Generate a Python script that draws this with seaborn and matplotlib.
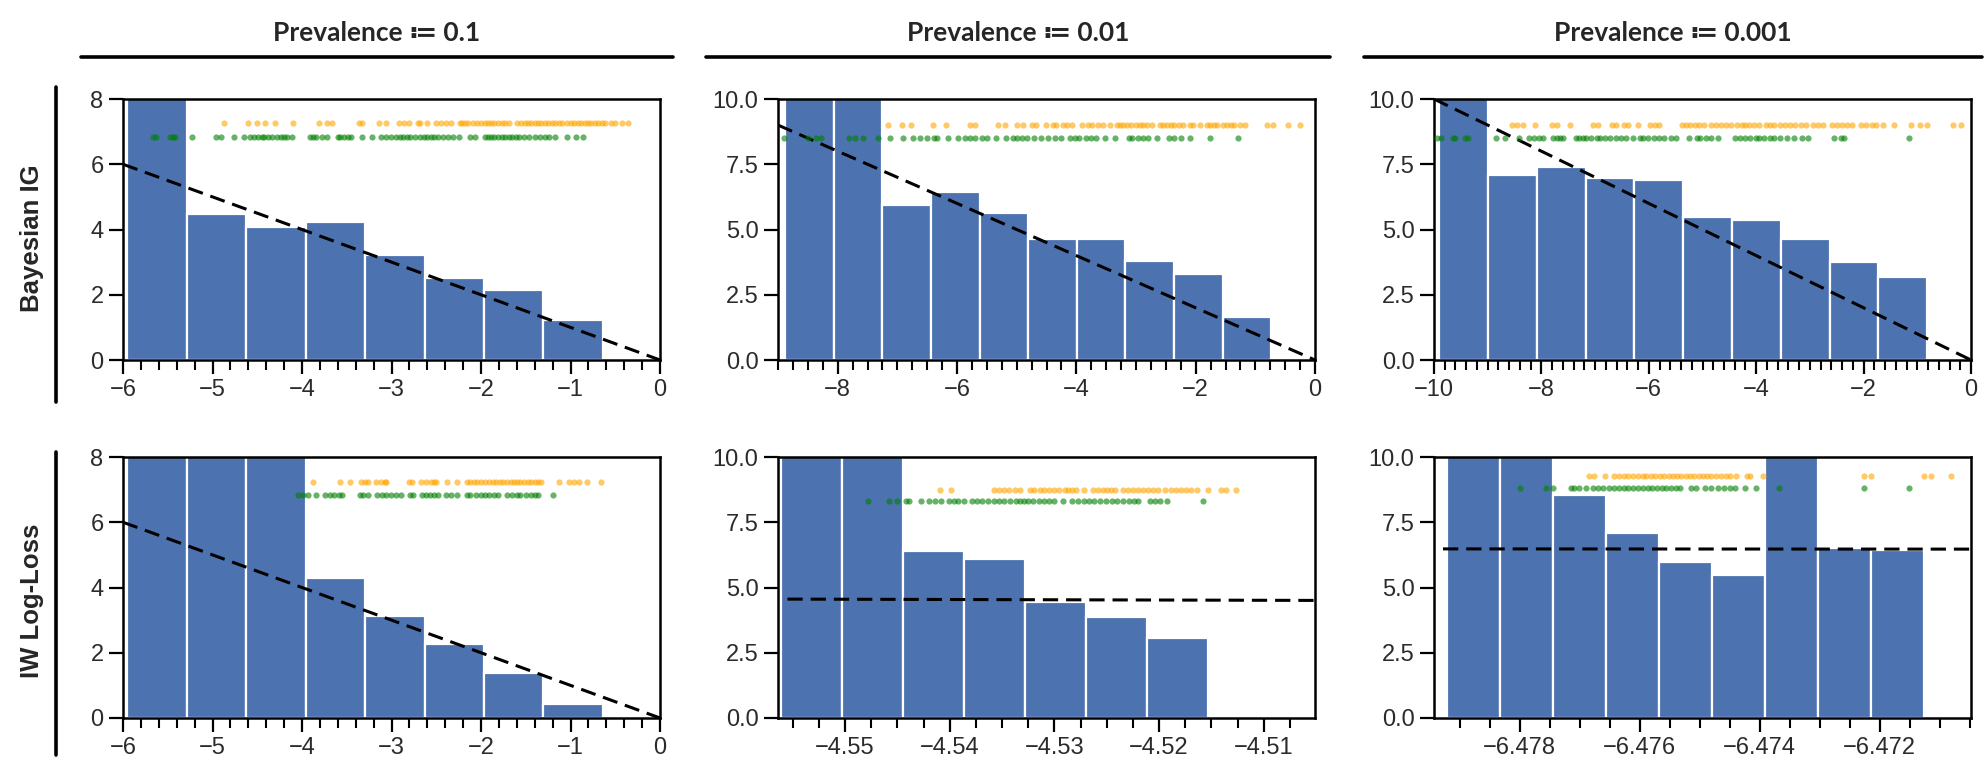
import numpy as np
import pandas as pd
import matplotlib
matplotlib.use("Agg")
import matplotlib.pyplot as plt
from matplotlib.lines import Line2D
from matplotlib.ticker import MultipleLocator
import seaborn as sns

# ---------------- data ----------------
col_titles = ["Prevalence ≔ 0.1", "Prevalence ≔ 0.01", "Prevalence ≔ 0.001"]
row_titles = ["Bayesian IG", "IW Log-Loss"]

# Bayesian IG, prevalence 0.1
ig1_bins = (-5.95, -0.64)
ig1_heights = [12.0, 4.46, 4.07, 4.22, 3.23, 2.50, 2.15, 1.23]
ig1_line = ([-6.0, 0.0], [6.0, 0.0])
ig1_levels = (7.25, 6.85)
ig1_orange = [-4.87, -4.60, -4.50, -4.41, -4.30, -4.10, -3.81, -3.72, -3.66, -3.36, -3.33,
              -3.14, -3.06, -2.92, -2.86, -2.81, -2.70, -2.68, -2.60, -2.50, -2.45, -2.39,
              -2.34, -2.24, -2.21, -2.18, -2.14, -2.09, -2.04, -2.00, -1.96, -1.92, -1.89,
              -1.85, -1.81, -1.77, -1.73, -1.69, -1.60, -1.55, -1.51, -1.48, -1.44, -1.40,
              -1.36, -1.33, -1.29, -1.25, -1.21, -1.17, -1.13, -1.09, -1.04, -1.00, -0.96,
              -0.92, -0.88, -0.84, -0.80, -0.77, -0.73, -0.69, -0.65, -0.61, -0.55, -0.50,
              -0.42, -0.36]
ig1_green = [-5.67, -5.63, -5.47, -5.44, -5.42, -5.23, -4.96, -4.90, -4.76, -4.65, -4.58,
             -4.54, -4.49, -4.45, -4.42, -4.38, -4.34, -4.28, -4.24, -4.20, -4.17, -4.11,
             -3.91, -3.88, -3.84, -3.78, -3.72, -3.60, -3.57, -3.53, -3.49, -3.45, -3.33,
             -3.22, -3.12, -3.06, -3.01, -2.95, -2.91, -2.87, -2.83, -2.79, -2.74, -2.68,
             -2.64, -2.60, -2.56, -2.52, -2.48, -2.43, -2.37, -2.31, -2.25, -2.12, -2.07,
             -1.96, -1.92, -1.89, -1.85, -1.81, -1.77, -1.73, -1.69, -1.65, -1.61, -1.58,
             -1.52, -1.46, -1.40, -1.34, -1.29, -1.24, -1.17, -1.04, -0.94, -0.86]

# Bayesian IG, prevalence 0.01
ig2_bins = (-8.88, -0.735)
ig2_heights = [13.0, 12.0, 5.94, 6.44, 5.64, 4.62, 4.62, 3.78, 3.31, 1.65]
ig2_line = ([-9.0, 0.0], [9.0, 0.0])
ig2_levels = (9.0, 8.5)
ig2_orange = [-7.15, -6.93, -6.77, -6.40, -6.18, -5.78, -5.69, -5.32, -5.20, -5.00, -4.89,
              -4.74, -4.68, -4.51, -4.39, -4.34, -4.22, -4.16, -4.07, -3.90, -3.81, -3.73,
              -3.64, -3.55, -3.44, -3.32, -3.26, -3.21, -3.15, -3.09, -3.00, -2.94, -2.89,
              -2.81, -2.74, -2.60, -2.54, -2.48, -2.42, -2.36, -2.28, -2.22, -2.10, -2.05,
              -1.93, -1.81, -1.76, -1.70, -1.64, -1.55, -1.47, -1.41, -1.35, -1.26, -1.18,
              -0.80, -0.71, -0.45, -0.25]
ig2_green = [-8.90, -8.49, -8.37, -8.28, -7.81, -7.71, -7.58, -7.32, -7.12, -6.91, -6.74,
             -6.62, -6.51, -6.39, -6.33, -6.15, -5.99, -5.87, -5.78, -5.70, -5.58, -5.49,
             -5.35, -5.18, -5.06, -5.00, -4.91, -4.83, -4.71, -4.60, -4.48, -4.36, -4.25,
             -4.10, -4.02, -3.96, -3.84, -3.76, -3.67, -3.52, -3.35, -3.12, -3.06, -2.97,
             -2.89, -2.80, -2.65, -2.45, -2.36, -2.25, -2.10, -1.76, -1.29]

# Bayesian IG, prevalence 0.001
ig3_bins = (-9.905, -0.815)
ig3_heights = [12.0, 7.09, 7.40, 6.96, 6.90, 5.49, 5.36, 4.64, 3.76, 3.17]
ig3_line = ([-10.0, 0.0], [10.0, 0.0])
ig3_levels = (9.0, 8.5)
ig3_orange = [-8.55, -8.45, -8.34, -8.12, -7.81, -7.71, -7.46, -7.04, -6.94, -6.68, -6.62,
              -6.47, -6.39, -6.20, -5.98, -5.88, -5.81, -5.38, -5.31, -5.23, -5.14, -5.07,
              -4.98, -4.85, -4.75, -4.65, -4.56, -4.46, -4.36, -4.27, -4.20, -4.14, -4.04,
              -3.95, -3.82, -3.75, -3.66, -3.56, -3.46, -3.37, -3.27, -3.17, -3.08, -2.95,
              -2.85, -2.76, -2.59, -2.50, -2.40, -2.30, -2.21, -2.05, -1.95, -1.85, -1.76,
              -1.63, -1.43, -1.11, -0.95, -0.82, -0.34, -0.18]
ig3_green = [-9.94, -9.87, -9.65, -9.60, -9.42, -9.36, -8.85, -8.68, -8.42, -8.23, -8.13,
             -8.04, -7.97, -7.78, -7.71, -7.65, -7.59, -7.36, -7.30, -7.23, -7.17, -7.07,
             -6.97, -6.91, -6.81, -6.72, -6.62, -6.52, -6.43, -6.30, -6.17, -6.10, -6.01,
             -5.91, -5.81, -5.72, -5.59, -5.49, -5.25, -5.11, -5.04, -4.94, -4.85, -4.72,
             -4.40, -4.30, -4.20, -4.11, -4.01, -3.95, -3.85, -3.75, -3.66, -3.56, -3.43,
             -3.30, -3.14, -3.04, -2.56, -2.43, -2.37, -1.16]

# IW Log-Loss, prevalence 0.1
iw1_bins = (-5.95, -0.64)
iw1_heights = [13.0, 12.0, 11.0, 4.28, 3.14, 2.26, 1.37, 0.43]
iw1_line = ([-6.0, 0.0], [6.0, 0.0])
iw1_levels = (7.24, 6.85)
iw1_orange = [-3.88, -3.57, -3.46, -3.34, -3.30, -3.26, -3.17, -3.12, -3.07, -3.06, -2.80,
              -2.77, -2.67, -2.62, -2.56, -2.52, -2.50, -2.38, -2.27, -2.16, -2.12, -2.08,
              -2.04, -2.00, -1.96, -1.91, -1.87, -1.83, -1.79, -1.75, -1.71, -1.67, -1.63,
              -1.60, -1.56, -1.52, -1.48, -1.44, -1.40, -1.36, -1.33, -1.13, -1.02, -0.96,
              -0.90, -0.82, -0.66]
iw1_green = [-4.04, -3.99, -3.93, -3.84, -3.74, -3.69, -3.64, -3.59, -3.55, -3.35, -3.32,
             -3.26, -3.16, -3.11, -3.06, -3.01, -2.95, -2.89, -2.79, -2.76, -2.66, -2.62,
             -2.57, -2.52, -2.48, -2.39, -2.33, -2.27, -2.16, -2.12, -2.06, -2.00, -1.96,
             -1.91, -1.85, -1.81, -1.71, -1.65, -1.60, -1.56, -1.50, -1.44, -1.40, -1.36,
             -1.19]

# IW Log-Loss, prevalence 0.01
iw2_bins = (-4.5561, -4.5153)
iw2_heights = [13.0, 12.0, 6.38, 6.08, 4.46, 3.87, 3.08]
iw2_line = ([-4.5555, -4.5051], [4.5555, 4.5051])
iw2_levels = (8.74, 8.33)
iw2_orange = [-4.5409, -4.5399, -4.5358, -4.5353, -4.5348, -4.5343, -4.5338, -4.5333,
              -4.5323, -4.5319, -4.5314, -4.5310, -4.5305, -4.5300, -4.5296, -4.5290,
              -4.5287, -4.5283, -4.5279, -4.5272, -4.5263, -4.5258, -4.5254, -4.5250,
              -4.5246, -4.5242, -4.5234, -4.5230, -4.5225, -4.5220, -4.5215, -4.5211,
              -4.5206, -4.5201, -4.5194, -4.5189, -4.5184, -4.5179, -4.5174, -4.5169,
              -4.5164, -4.5153, -4.5141, -4.5136, -4.5126]
iw2_green = [-4.5478, -4.5458, -4.5450, -4.5442, -4.5439, -4.5427, -4.5420, -4.5414,
             -4.5408, -4.5401, -4.5396, -4.5392, -4.5386, -4.5379, -4.5374, -4.5369,
             -4.5363, -4.5358, -4.5353, -4.5348, -4.5342, -4.5337, -4.5333, -4.5329,
             -4.5325, -4.5320, -4.5315, -4.5310, -4.5305, -4.5300, -4.5292, -4.5283,
             -4.5277, -4.5272, -4.5267, -4.5262, -4.5256, -4.5251, -4.5245, -4.5240,
             -4.5234, -4.5229, -4.5224, -4.5220, -4.5209, -4.5204, -4.5199, -4.5192,
             -4.5158]

# IW Log-Loss, prevalence 0.001
iw3_bins = (-6.47922, -6.47127)
iw3_heights = [13.0, 12.0, 8.55, 7.09, 5.99, 5.47, 11.0, 6.50, 6.45]
iw3_line = ([-6.47928, -6.47048], [6.47928, 6.47048])
iw3_levels = (9.27, 8.83)
iw3_orange = [-6.47684, -6.47677, -6.47658, -6.47643, -6.47635, -6.47627, -6.47620,
              -6.47612, -6.47603, -6.47594, -6.47589, -6.47581, -6.47574, -6.47567,
              -6.47560, -6.47552, -6.47545, -6.47538, -6.47531, -6.47523, -6.47516,
              -6.47510, -6.47502, -6.47495, -6.47488, -6.47481, -6.47473, -6.47465,
              -6.47456, -6.47449, -6.47439, -6.47421, -6.47416, -6.47395, -6.47226,
              -6.47214, -6.47126, -6.47114, -6.47081]
iw3_green = [-6.47799, -6.47757, -6.47744, -6.47715, -6.47710, -6.47701, -6.47689,
             -6.47678, -6.47669, -6.47661, -6.47652, -6.47643, -6.47635, -6.47627,
             -6.47620, -6.47612, -6.47603, -6.47594, -6.47587, -6.47580, -6.47571,
             -6.47563, -6.47556, -6.47548, -6.47540, -6.47533, -6.47514, -6.47506,
             -6.47492, -6.47482, -6.47470, -6.47459, -6.47450, -6.47442, -6.47424,
             -6.47406, -6.47368, -6.47227, -6.47152]

# axis settings per panel: xlim, ylim, major step, minor step
panels = [
    [dict(bins=ig1_bins, h=ig1_heights, line=ig1_line, lev=ig1_levels, o=ig1_orange, g=ig1_green,
          xlim=(-6, 0), ylim=(0, 8), major=1, minor=0.2, ymajor=2),
     dict(bins=ig2_bins, h=ig2_heights, line=ig2_line, lev=ig2_levels, o=ig2_orange, g=ig2_green,
          xlim=(-9, 0), ylim=(0, 10), major=2, minor=0.25, ymajor=2.5),
     dict(bins=ig3_bins, h=ig3_heights, line=ig3_line, lev=ig3_levels, o=ig3_orange, g=ig3_green,
          xlim=(-10, 0), ylim=(0, 10), major=2, minor=0.2, ymajor=2.5)],
    [dict(bins=iw1_bins, h=iw1_heights, line=iw1_line, lev=iw1_levels, o=iw1_orange, g=iw1_green,
          xlim=(-6, 0), ylim=(0, 8), major=1, minor=0.2, ymajor=2),
     dict(bins=iw2_bins, h=iw2_heights, line=iw2_line, lev=iw2_levels, o=iw2_orange, g=iw2_green,
          xlim=(-4.5564, -4.5051), ylim=(0, 10), major=0.01, minor=0.0025, ymajor=2.5),
     dict(bins=iw3_bins, h=iw3_heights, line=iw3_line, lev=iw3_levels, o=iw3_orange, g=iw3_green,
          xlim=(-6.47943, -6.47048), ylim=(0, 10), major=0.002, minor=0.0005, ymajor=2.5)],
]

# ---------------- style ----------------
sns.set_style("ticks")
plt.rcParams["font.family"] = ["Liberation Sans Narrow", "Liberation Sans", "DejaVu Sans"]
plt.rcParams["axes.edgecolor"] = "black"
plt.rcParams["axes.linewidth"] = 1.8
plt.rcParams["xtick.minor.visible"] = True

W, H = 1986, 762
fig = plt.figure(figsize=(W / 100, H / 100), dpi=100)

BAR_COLOR = "#4C72B0"
col_left = [123, 778, 1434]
row_top = [99, 457]
ax_w, ax_h = 537, 261


def px_rect(left, top, w, h):
    return [left / W, 1 - (top + h) / H, w / W, h / H]


for r in range(2):
    for c in range(3):
        p = panels[r][c]
        ax = fig.add_axes(px_rect(col_left[c], row_top[r], ax_w, ax_h))
        edges = np.linspace(p["bins"][0], p["bins"][1], len(p["h"]) + 1)
        df = pd.DataFrame({"x": (edges[:-1] + edges[1:]) / 2, "w": p["h"]})
        sns.histplot(data=df, x="x", weights="w", bins=edges.tolist(), ax=ax,
                     color=BAR_COLOR, alpha=1, edgecolor="white", linewidth=1.6)
        ax.plot(p["line"][0], p["line"][1], color="black", lw=2.2, dashes=(5, 2.6), zorder=3)
        sns.scatterplot(x=p["o"], y=[p["lev"][0]] * len(p["o"]), ax=ax, color="orange",
                        alpha=0.6, s=20, linewidth=0, zorder=4)
        sns.scatterplot(x=p["g"], y=[p["lev"][1]] * len(p["g"]), ax=ax, color="green",
                        alpha=0.6, s=20, linewidth=0, zorder=4)
        ax.set_xlim(*p["xlim"])
        ax.set_ylim(*p["ylim"])
        ax.xaxis.set_major_locator(MultipleLocator(p["major"]))
        ax.xaxis.set_minor_locator(MultipleLocator(p["minor"]))
        ax.yaxis.set_major_locator(MultipleLocator(p["ymajor"]))
        ax.ticklabel_format(useOffset=False)
        ax.set_xlabel("")
        ax.set_ylabel("")
        ax.tick_params(axis="both", which="major", length=10, width=1.6, labelsize=17,
                       labelcolor="#2b2b2b", color="black", pad=4)
        ax.tick_params(axis="x", which="minor", bottom=True, length=7, width=1.5,
                       color="black")
        for s in ax.spines.values():
            s.set_linewidth(1.8)
            s.set_color("black")

# column headers with rule underneath
title_lines = [(81, 673), (706, 1330), (1364, 1982)]
for (x0, x1), t in zip(title_lines, col_titles):
    fig.text((x0 + x1) / 2 / W, 1 - 33 / H, t, ha="center", va="center", fontsize=19,
             fontweight="bold", family=["Lato", "DejaVu Sans"])
    fig.add_artist(Line2D([x0 / W, x1 / W], [1 - 57 / H, 1 - 57 / H],
                          transform=fig.transFigure, color="black", lw=2.6))

# row headers with vertical rule
row_lines = [(87, 402), (452, 755)]
row_centers = [238, 601]
for (y0, y1), yc, t in zip(row_lines, row_centers, row_titles):
    fig.text(32 / W, 1 - yc / H, t, ha="center", va="center", rotation=90, fontsize=18.5,
             fontweight="bold", family=["Liberation Sans", "DejaVu Sans"])
    fig.add_artist(Line2D([56 / W, 56 / W], [1 - y0 / H, 1 - y1 / H],
                          transform=fig.transFigure, color="black", lw=2.6))

fig.savefig("out.png", dpi=100)
